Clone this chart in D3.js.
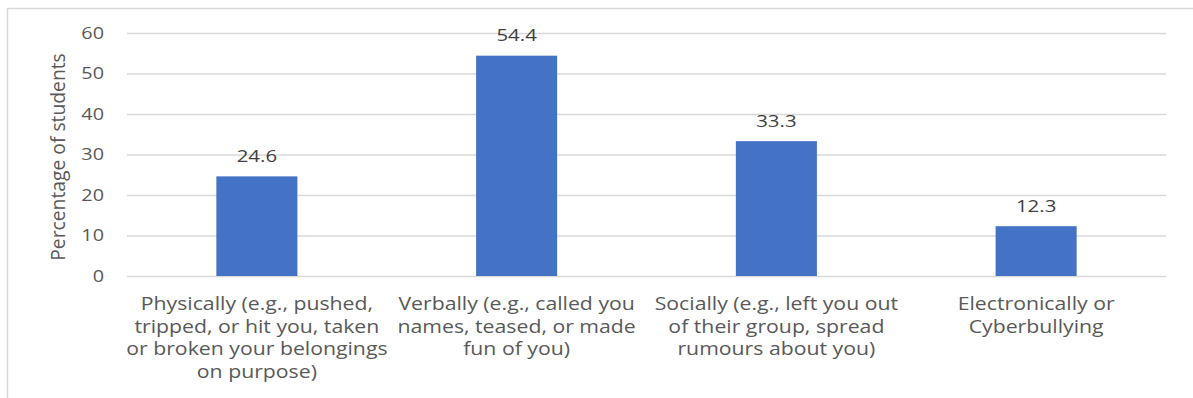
<!DOCTYPE html>
<html>
<head>
<meta charset="utf-8">
<script src="https://cdn.jsdelivr.net/npm/d3@7"></script>
<style>
  body { margin: 0; background: #fff; }
  text { font-family: "Open Sans", "Noto Sans", sans-serif; }
</style>
</head>
<body>
<div id="chart"></div>
<script>
var categories = [
	["Physically (e.g., pushed,", "tripped, or hit you, taken", "or broken your belongings", "on purpose)"],
	["Verbally (e.g., called you", "names, teased, or made", "fun of you)"],
	["Socially (e.g., left you out", "of their group, spread", "rumours about you)"],
	["Electronically or", "Cyberbullying"]
];
var values = [24.6, 54.4, 33.3, 12.3];
var yTicks = [0, 10, 20, 30, 40, 50, 60];

var width = 1193,
	height = 398;
var margin = {top: 33, right: 27, bottom: 122, left: 127};
var stretch = 1.2; // text in the original is a little wide

var svg = d3.select("#chart").append("svg")
	.attr("width", width)
	.attr("height", height);

// chart frame (top and left edges)
svg.append("path")
	.attr("d", "M7.5," + height + "V8.5H" + width)
	.attr("fill", "none")
	.attr("stroke", "#d9d9d9")
	.attr("stroke-width", 1.5);

var x = d3.scaleBand()
	.domain(d3.range(categories.length))
	.range([margin.left, width - margin.right])
	.paddingInner(0.688)
	.paddingOuter(0.344);

var y = d3.scaleLinear()
	.domain([0, 60])
	.range([height - margin.bottom, margin.top]);

var yAxis = svg.append("g")
	.attr("transform", "translate(" + margin.left + ",0)")
	.call(d3.axisLeft(y).tickValues(yTicks).tickSize(-(width - margin.left - margin.right)));
yAxis.select(".domain").remove();
yAxis.selectAll("line").attr("stroke", "#d9d9d9").attr("stroke-width", 1.3);
yAxis.selectAll("text")
	.attr("x", -23 / stretch)
	.attr("transform", "scale(" + stretch + ",1)")
	.attr("fill", "#595959")
	.style("font-size", "16.5px");

svg.append("text")
	.attr("transform", "translate(65,157) rotate(-90)")
	.attr("text-anchor", "middle")
	.attr("fill", "#595959")
	.style("font-size", "19.3px")
	.text("Percentage of students");

svg.selectAll(".bar")
	.data(values)
	.enter()
	.append("rect")
	.attr("class", "bar")
	.attr("x", function(d, i){ return x(i); })
	.attr("y", function(d){ return y(d); })
	.attr("width", x.bandwidth())
	.attr("height", function(d){ return y(0) - y(d); })
	.attr("fill", "#4472c4");

svg.selectAll(".val")
	.data(values)
	.enter()
	.append("text")
	.attr("class", "val")
	.attr("transform", function(d, i){
		return "translate(" + (x(i) + x.bandwidth() / 2) + "," + (y(d) - 14.5) + ") scale(" + stretch + ",1)";
	})
	.attr("text-anchor", "middle")
	.attr("fill", "#404040")
	.style("font-size", "17px")
	.text(function(d){ return d.toFixed(1); });

var labels = svg.selectAll(".cat")
	.data(categories)
	.enter()
	.append("text")
	.attr("class", "cat")
	.attr("text-anchor", "middle")
	.attr("fill", "#595959")
	.style("font-size", "17.7px")
	.attr("transform", function(d, i){
		return "translate(" + (x(i) + x.bandwidth() / 2) + "," + (y(0) + 34) + ") scale(" + stretch + ",1)";
	});
labels.selectAll("tspan")
	.data(function(d){ return d; })
	.enter()
	.append("tspan")
	.attr("x", 0)
	.attr("y", function(d, i){ return i * 22.6; })
	.text(function(d){ return d; });
</script>
</body>
</html>
